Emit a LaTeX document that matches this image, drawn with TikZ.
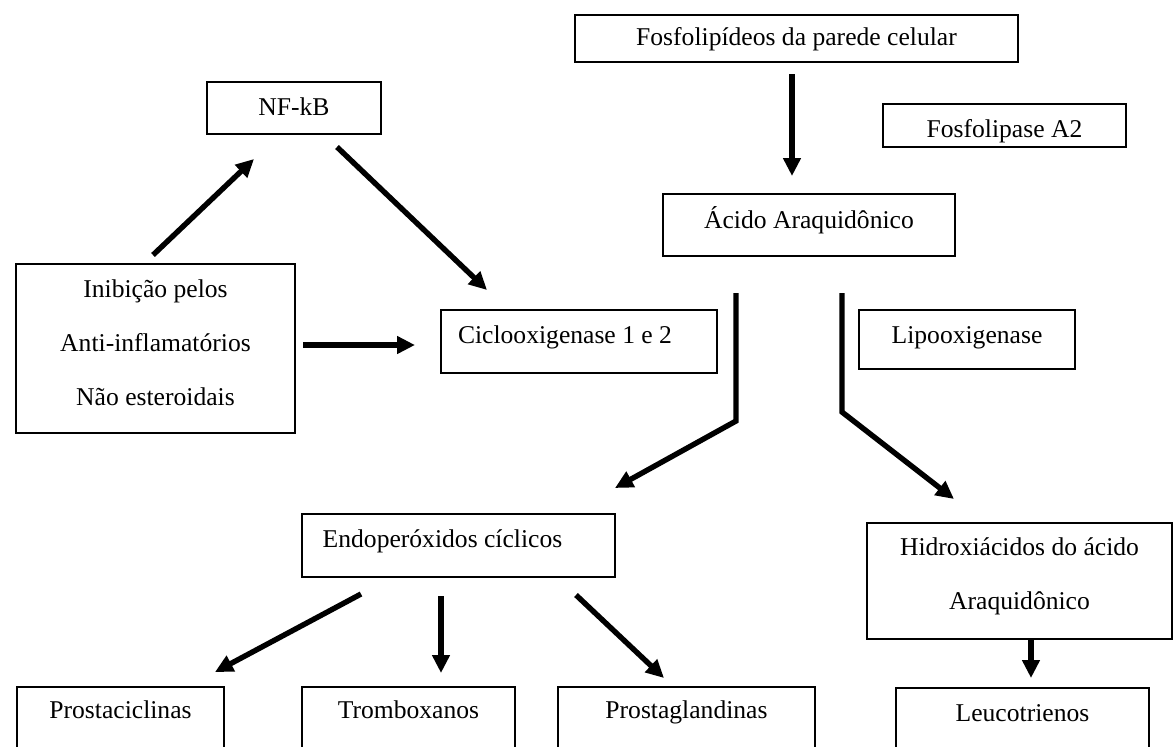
\documentclass[tikz,border=0pt]{standalone}
\usepackage{fontspec}
\setmainfont{Liberation Serif}
\usetikzlibrary{arrows.meta}
\newcommand\tx[3]{\raisebox{#1}[0pt][0pt]{\makebox[0pt]{\hspace*{#2}#3}}}
\begin{document}
\begin{tikzpicture}[x=0.5pt,y=-0.5pt,
  box/.style={draw=black, line width=1pt, inner sep=0pt, outer sep=0pt,
    font=\fontsize{12.8}{27}\selectfont},
  arr/.style={line width=2.7pt, line join=miter, -{Triangle[length=9pt,width=8.5pt]}}]
\useasboundingbox (0,0) rectangle (1174,746);
\fill[white] (0,0) rectangle (1174,746);
\clip (0,0) rectangle (1174,746);

% boxes
\node[box, minimum width=221.5pt, minimum height=23.5pt] (fos) at (796.5,38.5) {\tx{-3.25pt}{0pt}{Fosfolipídeos da parede celular}};
\node[box, minimum width=87pt, minimum height=26pt] (nfkb) at (294,108) {\tx{-3.5pt}{0pt}{NF-kB}};
\node[box, minimum width=121.5pt, minimum height=21.5pt] (fa2) at (1004.5,125.5) {\tx{-5.75pt}{0pt}{Fosfolipase A2}};
\node[box, minimum width=146pt, minimum height=31pt] (acido) at (809,225) {\tx{-1.5pt}{0pt}{Ácido Araquidônico}};
\node[box, minimum width=138pt, minimum height=31.5pt] (ciclo) at (579,341.5) {\tx{-0.75pt}{-14pt}{Ciclooxigenase 1 e 2}};
\node[box, minimum width=108pt, minimum height=29.5pt] (lipo) at (967,339.5) {\tx{-1.75pt}{0pt}{Lipooxigenase}};
\node[box, minimum width=139.5pt, minimum height=84.5pt] (inib) at (155.5,348.5) {\tx{-28.25pt}{0pt}{\begin{tabular}[b]{@{}c@{}}Inibição pelos\\Anti-inflamatórios\\Não esteroidais\end{tabular}}};
\node[box, minimum width=156.5pt, minimum height=31.5pt] (endo) at (458.5,545.5) {\tx{-0.75pt}{-16pt}{Endoperóxidos cíclicos}};
\node[box, minimum width=152.5pt, minimum height=58pt] (hidro) at (1019.5,581) {\tx{-14pt}{0pt}{\begin{tabular}[b]{@{}c@{}}Hidroxiácidos do ácido\\Araquidônico\end{tabular}}};
\node[box, minimum width=103.5pt, minimum height=32.5pt] (prc) at (120.5,719.5) {\tx{0.75pt}{0pt}{Prostaciclinas}};
\node[box, minimum width=106.5pt, minimum height=32.5pt] (trb) at (408.5,719.5) {\tx{0.75pt}{0pt}{Tromboxanos}};
\node[box, minimum width=128.5pt, minimum height=32.5pt] (prg) at (686.5,719.5) {\tx{0.75pt}{0pt}{Prostaglandinas}};
\node[box, minimum width=126.5pt, minimum height=32pt] (leu) at (1022.5,720) {\tx{-0.5pt}{0pt}{Leucotrienos}};

% connector end points
\coordinate (a1s) at (153,255);  \coordinate (a1e) at (254,159);
\coordinate (a2s) at (337,147);  \coordinate (a2e) at (487,290);
\coordinate (a3s) at (303,345);  \coordinate (a3e) at (415,345);
\coordinate (a4s) at (792,74);   \coordinate (a4e) at (792,176);
\coordinate (a5s) at (736,293);  \coordinate (a5m) at (736,421); \coordinate (a5e) at (615,488);
\coordinate (a6s) at (842,293);  \coordinate (a6m) at (842,412); \coordinate (a6e) at (954,499);
\coordinate (a7s) at (361,594);  \coordinate (a7e) at (215,672);
\coordinate (a8s) at (441,596);  \coordinate (a8e) at (441,673);
\coordinate (a9s) at (576,595);  \coordinate (a9e) at (664,678);
\coordinate (a10s) at (1031,639); \coordinate (a10e) at (1031,678);

% connectors
\draw[arr] (a1s) -- (a1e);
\draw[arr] (a2s) -- (a2e);
\draw[arr] (a3s) -- (a3e);
\draw[arr] (a4s) -- (a4e);
\draw[arr] (a5s) -- (a5m) -- (a5e);
\draw[arr] (a6s) -- (a6m) -- (a6e);
\draw[arr] (a7s) -- (a7e);
\draw[arr] (a8s) -- (a8e);
\draw[arr] (a9s) -- (a9e);
\draw[arr] (a10s) -- (a10e);
\end{tikzpicture}
\end{document}
